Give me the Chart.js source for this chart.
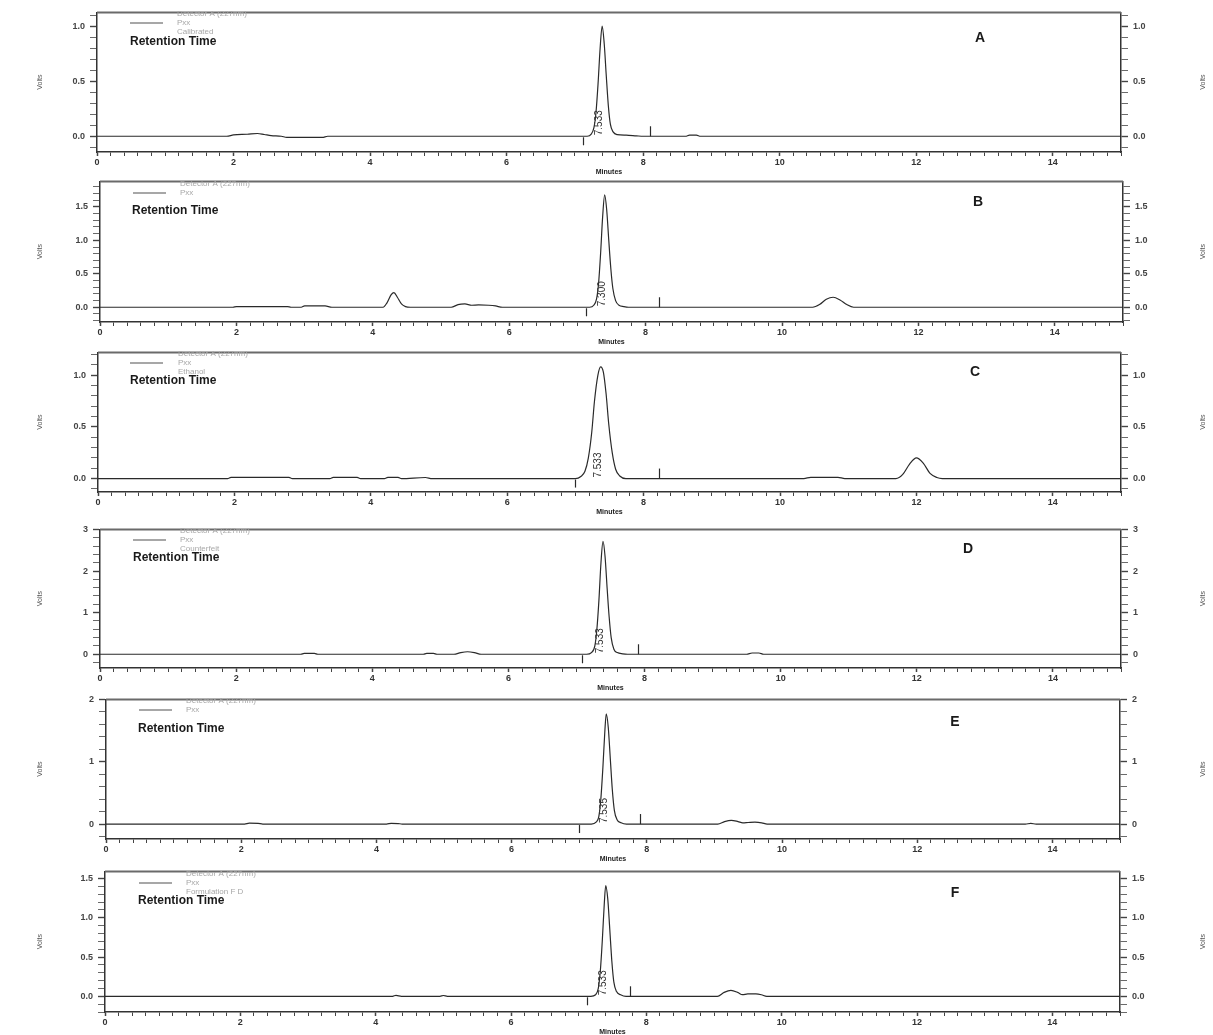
<!DOCTYPE html>
<html>
<head>
<meta charset="utf-8">
<script src="https://cdn.jsdelivr.net/npm/chart.js@4/dist/chart.umd.min.js"></script>
<style>
  html, body { margin: 0; padding: 0; background: #fff; }
  #wrap { position: relative; width: 1213px; height: 1035px; overflow: hidden; background: #fff; }
  #wrap canvas { position: absolute; left: 0; }
</style>
</head>
<body>
<div id="wrap"></div>
<script>
// ---- data: detector traces, [minutes, volts] ----
const xTickLabels = [0, 2, 4, 6, 8, 10, 12, 14];

const traceA = [
  [0, 0], [1.9, 0], [2.0, 0.012], [2.2, 0.018], [2.35, 0.025], [2.45, 0.016], [2.55, 0.006], [2.7, 0],
  [2.78, -0.01], [3.3, -0.01], [3.38, 0], [7.18, 0],
  [7.24, 0.02], [7.28, 0.08], [7.31, 0.22], [7.34, 0.48], [7.37, 0.8], [7.40, 1.0], [7.43, 0.84],
  [7.46, 0.55], [7.49, 0.28], [7.52, 0.11], [7.56, 0.04], [7.62, 0.015], [7.75, 0.01], [7.9, 0.004],
  [8.0, 0], [8.62, 0], [8.68, 0.01], [8.78, 0.01], [8.84, 0], [15, 0]
];
const traceB = [
  [0, 0], [1.95, 0], [2.0, 0.01], [2.75, 0.01], [2.8, 0], [2.95, 0], [3.0, 0.02], [3.3, 0.02], [3.4, 0],
  [4.15, 0], [4.21, 0.07], [4.27, 0.19], [4.31, 0.22], [4.36, 0.15], [4.42, 0.05], [4.48, 0.01], [4.55, 0],
  [5.15, 0], [5.25, 0.04], [5.35, 0.05], [5.45, 0.03], [5.55, 0.035], [5.7, 0.03], [5.8, 0.02], [5.9, 0],
  [7.18, 0], [7.24, 0.03], [7.28, 0.12], [7.31, 0.35], [7.34, 0.8], [7.37, 1.35], [7.40, 1.68], [7.43, 1.45],
  [7.46, 1.0], [7.49, 0.58], [7.52, 0.28], [7.56, 0.1], [7.61, 0.03], [7.68, 0.01], [7.75, 0],
  [10.45, 0], [10.55, 0.04], [10.65, 0.12], [10.75, 0.15], [10.85, 0.11], [10.95, 0.04], [11.05, 0], [15, 0]
];
const traceC = [
  [0, 0], [1.9, 0], [1.95, 0.012], [2.8, 0.012], [2.85, 0], [3.4, 0], [3.45, 0.012], [3.8, 0.012], [3.85, 0],
  [4.2, 0], [4.25, 0.012], [4.4, 0.012], [4.45, 0], [4.8, 0.01], [4.9, 0], [7.0, 0],
  [7.08, 0.02], [7.14, 0.07], [7.19, 0.2], [7.24, 0.45], [7.28, 0.75], [7.33, 1.0], [7.37, 1.08], [7.41, 1.03],
  [7.45, 0.82], [7.49, 0.52], [7.54, 0.25], [7.59, 0.09], [7.65, 0.025], [7.74, 0],
  [10.35, 0], [10.45, 0.012], [10.85, 0.012], [10.95, 0],
  [11.7, 0], [11.8, 0.04], [11.9, 0.14], [12.0, 0.2], [12.1, 0.15], [12.2, 0.05], [12.3, 0.01], [12.38, 0], [15, 0]
];
const traceD = [
  [0, 0], [2.95, 0], [3.0, 0.02], [3.15, 0.02], [3.2, 0], [4.75, 0], [4.8, 0.02], [4.9, 0.02], [4.95, 0],
  [5.2, 0], [5.3, 0.04], [5.4, 0.06], [5.5, 0.04], [5.6, 0],
  [7.15, 0], [7.22, 0.04], [7.27, 0.2], [7.30, 0.6], [7.33, 1.3], [7.36, 2.2], [7.39, 2.71], [7.42, 2.35],
  [7.45, 1.6], [7.48, 0.9], [7.51, 0.4], [7.55, 0.12], [7.6, 0.04], [7.68, 0.01], [7.75, 0],
  [9.5, 0], [9.58, 0.03], [9.68, 0.03], [9.75, 0], [15, 0]
];
const traceE = [
  [0, 0], [2.05, 0], [2.12, 0.015], [2.25, 0.01], [2.32, 0], [4.15, 0], [4.22, 0.012], [4.32, 0.008], [4.38, 0],
  [7.18, 0], [7.25, 0.03], [7.29, 0.12], [7.32, 0.4], [7.35, 0.9], [7.38, 1.5], [7.40, 1.77], [7.43, 1.55],
  [7.46, 1.05], [7.49, 0.55], [7.52, 0.22], [7.56, 0.07], [7.62, 0.02], [7.7, 0],
  [9.05, 0], [9.15, 0.04], [9.25, 0.06], [9.35, 0.04], [9.42, 0.02], [9.5, 0.025], [9.6, 0.03], [9.7, 0.02],
  [9.78, 0], [13.6, 0], [13.68, 0.01], [13.76, 0], [15, 0]
];
const traceF = [
  [0, 0], [4.25, 0], [4.3, 0.012], [4.38, 0], [4.95, 0], [5.0, 0.01], [5.06, 0],
  [7.18, 0], [7.25, 0.02], [7.29, 0.1], [7.32, 0.32], [7.35, 0.72], [7.38, 1.2], [7.40, 1.41], [7.43, 1.24],
  [7.46, 0.85], [7.49, 0.45], [7.52, 0.18], [7.56, 0.06], [7.62, 0.02], [7.7, 0],
  [9.05, 0], [9.15, 0.05], [9.25, 0.075], [9.35, 0.05], [9.42, 0.02], [9.5, 0.03], [9.62, 0.03], [9.7, 0.02],
  [9.78, 0], [15, 0]
];

// integration event marks: minutes, and whether the tick points up or down from the baseline
const eventsA = [[7.12, 'down'], [8.1, 'up']];
const eventsB = [[7.13, 'down'], [8.2, 'up']];
const eventsC = [[7.0, 'down'], [8.22, 'up']];
const eventsD = [[7.08, 'down'], [7.9, 'up']];
const eventsE = [[7.0, 'down'], [7.9, 'up']];
const eventsF = [[7.12, 'down'], [7.76, 'up']];

// retention time reported for the main peak
const peakLabels = ['7.533', '7.300', '7.533', '7.533', '7.535', '7.533'];
const peakTimes = [7.36, 7.37, 7.33, 7.35, 7.37, 7.37];

// y-axis labelled ticks per panel
const yTicksA = [0.0, 0.5, 1.0];
const yTicksB = [0.0, 0.5, 1.0, 1.5];
const yTicksC = [0.0, 0.5, 1.0];
const yTicksD = [0, 1, 2, 3];
const yTicksE = [0, 1, 2];
const yTicksF = [0.0, 0.5, 1.0, 1.5];

const sampleNames = ['Calibrated', '', 'Ethanol', 'Counterfeit', '', 'Formulation F D'];
const panelLetters = ['A', 'B', 'C', 'D', 'E', 'F'];

// ---- layout of each panel (page pixels) ----
const W = 1213;
const panels = [
  { trace: traceA, events: eventsA, yTicks: yTicksA, minor: 0.1, dec: 1, yMin: -0.143, yMax: 1.125,
    top: 10, bottom: 152, left: 97, right: 1121, letter: [980, 38], rt: [130, 42], leg: [130, 177, 14] },
  { trace: traceB, events: eventsB, yTicks: yTicksB, minor: 0.1, dec: 1, yMin: -0.22, yMax: 1.88,
    top: 179, bottom: 322, left: 100, right: 1123, letter: [978, 202], rt: [132, 211], leg: [133, 180, 184] },
  { trace: traceC, events: eventsC, yTicks: yTicksC, minor: 0.1, dec: 1, yMin: -0.13, yMax: 1.22,
    top: 350, bottom: 492, left: 98, right: 1121, letter: [975, 372], rt: [130, 381], leg: [130, 178, 354] },
  { trace: traceD, events: eventsD, yTicks: yTicksD, minor: 0.2, dec: 0, yMin: -0.33, yMax: 3.0,
    top: 527, bottom: 668, left: 100, right: 1121, letter: [968, 549], rt: [133, 558], leg: [133, 180, 531] },
  { trace: traceE, events: eventsE, yTicks: yTicksE, minor: 0.2, dec: 0, yMin: -0.24, yMax: 2.0,
    top: 697, bottom: 839, left: 106, right: 1120, letter: [955, 722], rt: [138, 729], leg: [139, 186, 701] },
  { trace: traceF, events: eventsF, yTicks: yTicksF, minor: 0.1, dec: 1, yMin: -0.2, yMax: 1.59,
    top: 869, bottom: 1012, left: 105, right: 1120, letter: [955, 893], rt: [138, 901], leg: [139, 186, 874] }
];

const PAD_TOP = 8;
const AXIS_H = 24;
const ink = '#2a2a2a';
const wrap = document.getElementById('wrap');

function yTickList(p) {
  const out = [];
  const start = Math.ceil(p.yMin / p.minor - 1e-6);
  for (let i = start; i * p.minor <= p.yMax + 1e-6; i++) {
    const v = +(i * p.minor).toFixed(3);
    out.push({ value: v, lbl: p.yTicks.some(t => Math.abs(t - v) < 1e-6) });
  }
  return out;
}
function xTickList() {
  const out = [];
  for (let i = 0; i <= 75; i++) {
    const v = +(i * 0.2).toFixed(2);
    out.push({ value: v, lbl: xTickLabels.includes(v) });
  }
  return out;
}

// frame top, event marks, peak label and panel annotations
const decor = {
  id: 'decor',
  afterDatasetsDraw(chart, args, o) {
    const p = o.panel, idx = o.idx;
    const { ctx, chartArea: a, scales } = chart;
    const xs = scales.x, ys = scales.y;
    const off = p.top - PAD_TOP; // canvas offset on page
    ctx.save();
    // top frame line
    ctx.strokeStyle = '#6a6a6a';
    ctx.lineWidth = 2;
    ctx.beginPath(); ctx.moveTo(a.left, a.top); ctx.lineTo(a.right, a.top); ctx.stroke();
    // event marks
    const y0 = ys.getPixelForValue(0);
    ctx.strokeStyle = ink; ctx.lineWidth = 1.2;
    p.events.forEach(([t, dir]) => {
      const x = Math.round(xs.getPixelForValue(t)) + 0.5;
      ctx.beginPath();
      if (dir === 'up') { ctx.moveTo(x, y0); ctx.lineTo(x, y0 - 10); }
      else { ctx.moveTo(x, y0 + 1); ctx.lineTo(x, y0 + 9); }
      ctx.stroke();
    });
    // peak retention label, rotated
    ctx.save();
    ctx.translate(xs.getPixelForValue(peakTimes[idx]), y0 - 1);
    ctx.rotate(-Math.PI / 2);
    ctx.fillStyle = '#333';
    ctx.font = '10px "Liberation Sans", Arial, sans-serif';
    ctx.textAlign = 'left'; ctx.textBaseline = 'middle';
    ctx.fillText(peakLabels[idx], 0, 0);
    ctx.restore();
    // legend block
    const [lx, tx, ly] = p.leg;
    ctx.strokeStyle = '#8a8a8a'; ctx.lineWidth = 1.5;
    ctx.beginPath(); ctx.moveTo(lx, ly + 9 - off); ctx.lineTo(lx + 33, ly + 9 - off); ctx.stroke();
    ctx.fillStyle = '#a8a8a8';
    ctx.font = '8px "Liberation Sans", Arial, sans-serif';
    ctx.textAlign = 'left'; ctx.textBaseline = 'middle';
    ctx.fillText('Detector A (227nm)', tx, ly - off);
    ctx.fillText('Pxx', tx, ly + 9 - off);
    if (sampleNames[idx]) ctx.fillText(sampleNames[idx], tx, ly + 18 - off);
    // "Retention Time"
    ctx.fillStyle = '#1a1a1a';
    ctx.font = 'bold 12px "Liberation Sans", Arial, sans-serif';
    ctx.fillText('Retention Time', p.rt[0], p.rt[1] - off);
    // panel letter
    ctx.font = 'bold 14px "Liberation Sans", Arial, sans-serif';
    ctx.textAlign = 'center';
    ctx.fillText(panelLetters[idx], p.letter[0], p.letter[1] - off);
    // Volts, both sides
    const ym = (a.top + a.bottom) / 2;
    ctx.fillStyle = '#555';
    ctx.font = '7px "Liberation Sans", Arial, sans-serif';
    [40, 1203].forEach(vx => {
      ctx.save(); ctx.translate(vx, ym); ctx.rotate(-Math.PI / 2);
      ctx.textAlign = 'center'; ctx.textBaseline = 'middle';
      ctx.fillText('Volts', 0, 0);
      ctx.restore();
    });
    ctx.restore();
  }
};

function yAxis(p, side) {
  return {
    type: 'linear', position: side, min: p.yMin, max: p.yMax,
    afterBuildTicks: s => { s.ticks = yTickList(p); },
    afterFit: s => { s.width = side === 'left' ? p.left : W - p.right; },
    border: { display: true, color: '#333', width: 1.5 },
    grid: {
      drawOnChartArea: false, drawTicks: true, tickLength: 7,
      tickColor: '#444',
      tickWidth: c => (c.tick && c.tick.lbl ? 1.4 : 0.8)
    },
    ticks: {
      autoSkip: false, padding: 5, color: '#444',
      font: { family: '"Liberation Sans", Arial, sans-serif', size: 9, weight: 'bold' },
      callback: (v, i, t) => (t[i].lbl ? Number(v).toFixed(p.dec) : '')
    }
  };
}

panels.forEach((p, idx) => {
  const h = (p.bottom - p.top) + PAD_TOP + AXIS_H;
  const cv = document.createElement('canvas');
  cv.width = W; cv.height = h;
  cv.style.width = W + 'px'; cv.style.height = h + 'px';
  cv.style.top = (p.top - PAD_TOP) + 'px';
  wrap.appendChild(cv);

  new Chart(cv, {
    type: 'line',
    data: {
      datasets: [{
        data: p.trace.map(([x, y]) => ({ x, y })),
        borderColor: ink, borderWidth: 1.2, pointRadius: 0,
        cubicInterpolationMode: 'monotone', fill: false, yAxisID: 'y'
      }]
    },
    options: {
      responsive: false, animation: false, devicePixelRatio: 1,
      layout: { padding: { top: PAD_TOP, left: 0, right: 0, bottom: 0 } },
      plugins: { legend: { display: false }, tooltip: { enabled: false }, decor: { panel: p, idx } },
      scales: {
        x: {
          type: 'linear', min: 0, max: 15,
          afterBuildTicks: s => { s.ticks = xTickList(); },
          afterFit: s => { s.height = AXIS_H; },
          border: { display: true, color: '#333', width: 1.5 },
          grid: {
            drawOnChartArea: false, drawTicks: true, tickLength: 4, tickColor: '#444',
            tickWidth: c => (c.tick && c.tick.lbl ? 1.5 : 1)
          },
          ticks: {
            autoSkip: false, maxRotation: 0, padding: 1, color: '#333',
            font: { family: '"Liberation Sans", Arial, sans-serif', size: 9, weight: 'bold' },
            callback: (v, i, t) => (t[i].lbl ? String(v) : '')
          },
          title: {
            display: true, text: 'Minutes', color: '#222', padding: { top: 0, bottom: 0 },
            font: { family: '"Liberation Sans", Arial, sans-serif', size: 7, weight: 'bold' }
          }
        },
        y: yAxis(p, 'left'),
        y2: yAxis(p, 'right')
      }
    },
    plugins: [decor]
  });
});
</script>
</body>
</html>
